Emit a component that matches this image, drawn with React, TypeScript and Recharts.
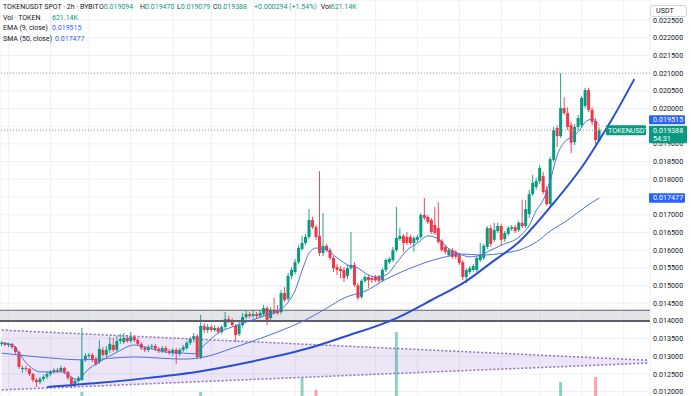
import React from 'react';
import {
  ComposedChart,
  Bar,
  Line,
  Area,
  XAxis,
  YAxis,
  CartesianGrid,
  ReferenceLine,
  ReferenceArea,
} from 'recharts';

const W = 691;
const H = 396;
const GREEN = '#089981';
const RED = '#f23645';
const BLUE = '#2962ff';
const TEXT = '#131722';
const FONT = 'Roboto, "Noto Sans", sans-serif';

// 2h candles, oldest first
const opens = [
  0.01335, 0.01338, 0.01332, 0.01335, 0.01326, 0.01312, 0.01264, 0.01267, 0.01264, 0.0125,
  0.01233, 0.01227, 0.01236, 0.01242, 0.0125, 0.01256, 0.01261, 0.01258, 0.01267, 0.01256,
  0.01239, 0.01222, 0.0123, 0.01233, 0.0129, 0.01301, 0.01304, 0.01292, 0.01284, 0.01318,
  0.01304, 0.01318, 0.01332, 0.01318, 0.01343, 0.0134, 0.01352, 0.01343, 0.01355, 0.01346,
  0.01335, 0.01323, 0.01318, 0.01326, 0.01329, 0.01321, 0.01315, 0.01323, 0.01315, 0.01309,
  0.01318, 0.01307, 0.01318, 0.01323, 0.01338, 0.01349, 0.01357, 0.01298, 0.01386, 0.01374,
  0.01383, 0.01374, 0.0138, 0.01369, 0.01383, 0.01405, 0.014, 0.01386, 0.01363, 0.01388,
  0.01411, 0.01419, 0.01414, 0.01419, 0.01414, 0.01419, 0.01436, 0.01408, 0.01431, 0.01428,
  0.01425, 0.01479, 0.01462, 0.01527, 0.01538, 0.01566, 0.01603, 0.0162, 0.01637, 0.01685,
  0.01665, 0.0164, 0.01592, 0.01612, 0.016, 0.01578, 0.01552, 0.01547, 0.01544, 0.01527,
  0.01549, 0.01558, 0.01501, 0.01468, 0.01513, 0.01524, 0.01521, 0.01524, 0.01524, 0.01515,
  0.01544, 0.01566, 0.01572, 0.016, 0.01631, 0.0164, 0.01637, 0.01637, 0.0162, 0.01629,
  0.01637, 0.01699, 0.01694, 0.01685, 0.01671, 0.01662, 0.01626, 0.01609, 0.01586, 0.016,
  0.01595, 0.01586, 0.01566, 0.01524, 0.01538, 0.01544, 0.01544, 0.01572, 0.01578, 0.01609,
  0.01662, 0.01629, 0.01654, 0.01668, 0.01631, 0.01646, 0.0166, 0.01665, 0.01657, 0.01677,
  0.01668, 0.01702, 0.01758, 0.01778, 0.01795, 0.01809, 0.0177, 0.0173, 0.01855, 0.01945,
  0.01922, 0.02001, 0.01987, 0.01953, 0.01905, 0.01948, 0.01953, 0.02007, 0.02052, 0.01996,
  0.01965, 0.019094,
];
const highs = [
  0.01343, 0.0134, 0.01338, 0.01338, 0.01329, 0.01315, 0.01273, 0.01273, 0.01267, 0.01253,
  0.01239, 0.01242, 0.01247, 0.01256, 0.01261, 0.01267, 0.01267, 0.01273, 0.0127, 0.01258,
  0.01242, 0.01236, 0.01244, 0.0138, 0.01309, 0.01309, 0.01309, 0.01298, 0.01346, 0.01326,
  0.01329, 0.01355, 0.01352, 0.01357, 0.01363, 0.01366, 0.0136, 0.01369, 0.0136, 0.01352,
  0.0134, 0.01329, 0.01332, 0.01335, 0.01335, 0.01326, 0.01329, 0.01329, 0.01321, 0.01323,
  0.01323, 0.01323, 0.01332, 0.01343, 0.01355, 0.01366, 0.01363, 0.01417, 0.01394, 0.01391,
  0.01388, 0.01388, 0.01386, 0.01388, 0.01425, 0.01414, 0.01408, 0.01391, 0.01397, 0.01422,
  0.01428, 0.01425, 0.01428, 0.01425, 0.01428, 0.01445, 0.01442, 0.01439, 0.01465, 0.01445,
  0.01487, 0.01496, 0.01535, 0.01552, 0.01575, 0.01614, 0.0164, 0.01646, 0.01716, 0.01694,
  0.01671, 0.01823, 0.01705, 0.01617, 0.01606, 0.01583, 0.01561, 0.01555, 0.01552, 0.01558,
  0.01651, 0.01566, 0.01507, 0.01518, 0.0153, 0.0153, 0.01527, 0.0153, 0.0153, 0.01549,
  0.01578, 0.01581, 0.01609, 0.01722, 0.01662, 0.01646, 0.01651, 0.01643, 0.0164, 0.01643,
  0.01705, 0.01747, 0.01699, 0.01691, 0.01722, 0.01736, 0.01631, 0.01614, 0.01606, 0.01606,
  0.016, 0.01592, 0.01572, 0.01549, 0.01555, 0.01561, 0.01583, 0.0162, 0.01617, 0.01668,
  0.01671, 0.01677, 0.01677, 0.01674, 0.01654, 0.01668, 0.01671, 0.01671, 0.01682, 0.01742,
  0.01742, 0.0177, 0.01812, 0.01804, 0.0184, 0.01821, 0.01781, 0.01863, 0.01948, 0.01953,
  0.021, 0.02032, 0.02004, 0.01962, 0.01956, 0.01982, 0.02035, 0.02058, 0.02058, 0.02004,
  0.01973, 0.01947,
];
const lows = [
  0.01329, 0.01329, 0.01326, 0.01321, 0.01307, 0.01264, 0.01253, 0.01258, 0.01244, 0.01227,
  0.01213, 0.01222, 0.0123, 0.01236, 0.01244, 0.0125, 0.01253, 0.01256, 0.0125, 0.01233,
  0.0121, 0.01213, 0.01225, 0.0123, 0.01284, 0.01295, 0.01284, 0.01273, 0.01278, 0.01298,
  0.01298, 0.01309, 0.01312, 0.01312, 0.01335, 0.01335, 0.01338, 0.01338, 0.0134, 0.01329,
  0.01318, 0.01312, 0.01312, 0.01321, 0.01315, 0.01309, 0.01309, 0.01309, 0.01304, 0.01301,
  0.01278, 0.01301, 0.01312, 0.01318, 0.01332, 0.0134, 0.01292, 0.01292, 0.01366, 0.01366,
  0.01369, 0.01369, 0.01363, 0.01363, 0.01377, 0.01394, 0.01383, 0.0134, 0.01357, 0.01383,
  0.01405, 0.01408, 0.01408, 0.01408, 0.01408, 0.01414, 0.01388, 0.01403, 0.01417, 0.01417,
  0.01419, 0.01453, 0.01456, 0.01518, 0.01532, 0.01561, 0.01598, 0.01614, 0.01631, 0.0166,
  0.01629, 0.01583, 0.01583, 0.01595, 0.01572, 0.01538, 0.0153, 0.01521, 0.0151, 0.01518,
  0.01544, 0.01496, 0.01459, 0.01462, 0.01507, 0.01493, 0.01507, 0.0151, 0.01507, 0.0151,
  0.01538, 0.01561, 0.01566, 0.01595, 0.01626, 0.01595, 0.01614, 0.01614, 0.01595, 0.01623,
  0.01631, 0.01685, 0.01674, 0.01646, 0.01643, 0.01617, 0.01595, 0.01589, 0.01581, 0.01575,
  0.01575, 0.01558, 0.01515, 0.01507, 0.01532, 0.01538, 0.01538, 0.01566, 0.01572, 0.01603,
  0.01609, 0.01623, 0.01648, 0.01614, 0.01623, 0.0164, 0.01654, 0.01648, 0.01651, 0.01662,
  0.01662, 0.01691, 0.01753, 0.0177, 0.01787, 0.01758, 0.01725, 0.01722, 0.01849, 0.01891,
  0.01917, 0.01982, 0.01939, 0.01874, 0.01897, 0.01939, 0.01945, 0.02001, 0.0199, 0.01953,
  0.01897, 0.019079,
];
const closes = [
  0.01338, 0.01332, 0.01335, 0.01326, 0.01312, 0.0127, 0.01267, 0.01264, 0.0125, 0.01233,
  0.01227, 0.01236, 0.01242, 0.0125, 0.01256, 0.01261, 0.01258, 0.01267, 0.01256, 0.01239,
  0.01222, 0.0123, 0.01239, 0.0129, 0.01301, 0.01304, 0.0129, 0.01278, 0.01321, 0.01304,
  0.01318, 0.01335, 0.01318, 0.01343, 0.01349, 0.01352, 0.01343, 0.01355, 0.01346, 0.01335,
  0.01323, 0.01318, 0.01326, 0.01329, 0.01321, 0.01315, 0.01323, 0.01315, 0.01309, 0.01318,
  0.01307, 0.01318, 0.01326, 0.01338, 0.01349, 0.01357, 0.01298, 0.01386, 0.01374, 0.01383,
  0.01374, 0.0138, 0.01369, 0.01383, 0.01405, 0.014, 0.01388, 0.0136, 0.01388, 0.01411,
  0.01419, 0.01414, 0.01419, 0.01414, 0.01422, 0.01436, 0.01403, 0.01431, 0.01422, 0.01422,
  0.01479, 0.01459, 0.01527, 0.01544, 0.01566, 0.01606, 0.0162, 0.01637, 0.01685, 0.01665,
  0.01637, 0.01592, 0.01612, 0.016, 0.01578, 0.01549, 0.01544, 0.01541, 0.01521, 0.01549,
  0.01558, 0.01501, 0.01465, 0.01513, 0.01524, 0.01515, 0.01515, 0.01515, 0.01513, 0.01544,
  0.01572, 0.01575, 0.016, 0.01634, 0.0164, 0.0162, 0.0162, 0.0162, 0.01634, 0.01637,
  0.01699, 0.01691, 0.01679, 0.01651, 0.01648, 0.01623, 0.016, 0.01595, 0.016, 0.01581,
  0.01581, 0.01564, 0.01524, 0.01544, 0.01549, 0.01555, 0.01578, 0.01586, 0.01612, 0.01662,
  0.01617, 0.01657, 0.01668, 0.01629, 0.01648, 0.01662, 0.01665, 0.01654, 0.01677, 0.01668,
  0.01716, 0.01758, 0.0179, 0.01795, 0.01832, 0.01764, 0.0173, 0.01857, 0.01939, 0.01922,
  0.02001, 0.01987, 0.01948, 0.01903, 0.01948, 0.01973, 0.0203, 0.02052, 0.01996, 0.01962,
  0.01911, 0.019388,
];

// only the volume bars that rise above the bottom edge (in K)
const volIdx = [23, 57, 86, 90, 113, 160, 170];
const volVal = [684, 684, 802, 701, 1191, 768, 811];
const lastVolume = '621.14K';

// EMA(9) / SMA(50)
const emaIdx = [0, 3, 7, 11, 17, 22, 24, 28, 33, 38, 42, 47, 52, 55, 58, 62, 66, 71, 75, 79, 82, 84, 86, 88, 90, 93, 96, 99, 102, 104, 107, 110, 113, 116, 119, 122, 125, 128, 131, 134, 137, 140, 143, 148, 151, 153, 155, 157, 159, 161, 163, 165, 167, 169, 171];
const emaVal = [
  0.01338, 0.01332, 0.01281, 0.01256, 0.01256, 0.01233, 0.01256, 0.01284, 0.01312, 0.01332,
  0.01323, 0.01312, 0.01309, 0.01307, 0.01332, 0.01366, 0.01383, 0.014, 0.01414, 0.01428,
  0.01453, 0.01487, 0.01544, 0.01592, 0.01606, 0.016, 0.01578, 0.01558, 0.01549, 0.01535,
  0.01524, 0.0153, 0.01564, 0.016, 0.0162, 0.0164, 0.01631, 0.01603, 0.01589, 0.01581,
  0.01586, 0.016, 0.01614, 0.01637, 0.01671, 0.01713, 0.01742, 0.01798, 0.01869, 0.01905,
  0.01919, 0.01934, 0.01962, 0.0197, 0.019515,
];
const smaIdx = [0, 14, 23, 38, 52, 58, 66, 71, 79, 87, 93, 98, 104, 110, 115, 121, 127, 132, 137, 144, 148, 153, 157, 162, 167, 171];
const smaVal = [
  0.01309, 0.01295, 0.0129, 0.01298, 0.01292, 0.01298, 0.01323, 0.0134, 0.01369, 0.01403,
  0.01436, 0.01465, 0.01484, 0.01518, 0.01541, 0.01564, 0.01581, 0.01589, 0.01586, 0.01592,
  0.016, 0.01623, 0.01654, 0.01685, 0.01722, 0.017477,
];

// drawings: curved support, triangle, grey zone, horizontal marks
const trendIdx = [13, 28, 42, 57, 71, 89, 98, 113, 123, 133, 140, 148, 157, 167, 171, 175, 181];
const trendVal = [
  0.01213, 0.01225, 0.01239, 0.01258, 0.01284, 0.01326, 0.01355, 0.01408, 0.01459, 0.01513,
  0.01564, 0.01623, 0.01722, 0.01849, 0.01911, 0.01976, 0.02083,
];
const triIdx = [0, 185];
const triTop = [0.01374, 0.01289];
const triBot = [0.01205, 0.01281];
const zone = [0.014, 0.0143];
const highMark = 0.021;

const priceTicks = [
  0.012, 0.0125, 0.013, 0.0135, 0.014, 0.0145, 0.015, 0.0155, 0.016, 0.0165, 0.017, 0.0175,
  0.018, 0.0185, 0.019, 0.0195, 0.02, 0.0205, 0.021, 0.0215, 0.022, 0.0225,
];
// labels fully covered by the price tags on the right
const coveredTicks = [0.0175, 0.0195];
const timeGrid = [2, 14, 25, 37, 49, 60, 72, 84, 96, 107, 119, 131, 143, 154, 166, 178];
const SLOTS = 186;
const countdown = '54:31';
const Y_DOMAIN = [0.011878, 0.023065];

const rows: any[] = Array.from({ length: SLOTS }, (_, i) => ({
  t: i,
  open: i < opens.length ? opens[i] : null,
  high: i < highs.length ? highs[i] : null,
  low: i < lows.length ? lows[i] : null,
  close: i < closes.length ? closes[i] : null,
  vol: null,
  ema: null,
  sma: null,
  trend: null,
  triTop: null,
  triBot: null,
}));
volIdx.forEach((k, j) => (rows[k].vol = volVal[j]));
emaIdx.forEach((k, j) => (rows[k].ema = emaVal[j]));
smaIdx.forEach((k, j) => (rows[k].sma = smaVal[j]));
trendIdx.forEach((k, j) => (rows[k].trend = trendVal[j]));
triIdx.forEach((k, j) => {
  rows[k].triTop = triTop[j];
  rows[k].triBot = triBot[j];
});

const last = opens.length - 1;
const lastClose = closes[last];
const lastEma = emaVal[emaVal.length - 1];
const lastSma = smaVal[smaVal.length - 1];
const fmt = (v: number) => v.toFixed(6);

function Candle(props: any) {
  const { x, y, width, height, payload } = props;
  if (!payload || payload.open == null) return <g />;
  const { open, close, high, low } = payload;
  const top = Math.min(y, y + height);
  const h = Math.abs(height);
  const span = high - low || 1;
  const py = (v: number) => top + ((high - v) / span) * h;
  const color = close >= open ? GREEN : RED;
  const cx = x + width / 2;
  const bTop = py(Math.max(open, close));
  const bH = Math.max(py(Math.min(open, close)) - bTop, 0.8);
  return (
    <g>
      <line x1={cx} x2={cx} y1={top} y2={top + h} stroke={color} strokeWidth={0.9} />
      <rect x={x} y={bTop} width={width} height={bH} fill={color} />
    </g>
  );
}

function VolBar(props: any) {
  const { x, y, width, height, payload } = props;
  if (!payload || payload.vol == null) return <g />;
  const fill = payload.close >= payload.open ? 'rgba(8,153,129,0.45)' : 'rgba(242,54,69,0.45)';
  return <rect x={x} y={Math.min(y, y + height)} width={width} height={Math.abs(height)} fill={fill} />;
}

function PriceTick(props: any) {
  const { x, y, payload } = props;
  if (coveredTicks.some((v) => Math.abs(v - payload.value) < 1e-9)) return <g />;
  return (
    <text x={x} y={y} dy="0.35em" textAnchor="start" fontSize={7.2} fill={TEXT} fontFamily={FONT}>
      {fmt(payload.value)}
    </text>
  );
}

const vbOf = (p: any) => p.viewBox ?? p;
const tagText = { fontSize: 7.2, fontFamily: FONT, fill: '#fff' };

function closeTag(p: any) {
  const vb = vbOf(p);
  const r = vb.x + vb.width;
  const y = vb.y;
  return (
    <g>
      <rect x={r - 44} y={y - 5} width={40} height={10} rx={1} fill={GREEN} />
      <text x={r - 42} y={y} dy="0.35em" {...tagText}>TOKENUSDT</text>
      <rect x={r - 1} y={y - 4.5} width={38} height={17.5} rx={1} fill={GREEN} />
      <text x={r + 3} y={y} dy="0.35em" {...tagText}>{fmt(lastClose)}</text>
      <text x={r + 3} y={y + 8.5} dy="0.35em" {...tagText}>{countdown}</text>
    </g>
  );
}

function emaTag(p: any) {
  const vb = vbOf(p);
  const r = vb.x + vb.width;
  const y = vb.y;
  return (
    <g>
      <rect x={r - 1} y={y - 10.5} width={36} height={9} rx={1} fill={BLUE} />
      <text x={r + 3} y={y - 6} dy="0.35em" {...tagText}>{fmt(lastEma)}</text>
    </g>
  );
}

function smaTag(p: any) {
  const vb = vbOf(p);
  const r = vb.x + vb.width;
  const y = vb.y;
  return (
    <g>
      <rect x={r - 1} y={y - 4.5} width={36} height={9.5} rx={1} fill={BLUE} />
      <text x={r + 3} y={y} dy="0.35em" {...tagText}>{fmt(lastSma)}</text>
    </g>
  );
}

const legendRow: React.CSSProperties = {
  position: 'absolute',
  left: 3,
  display: 'flex',
  gap: 4,
  fontFamily: FONT,
  fontSize: 7,
  lineHeight: '9px',
  color: TEXT,
  whiteSpace: 'nowrap',
};

const MARGIN = { top: 0, right: 0, bottom: 0, left: 0 };

export default function App() {
  const o = opens[last];
  const c = closes[last];
  const chg = c - o;
  const pct = (chg / o) * 100;
  return (
    <div style={{ position: 'absolute', left: 0, top: 0, width: W, height: H, background: '#fff', overflow: 'hidden' }}>
      <ComposedChart width={W} height={H} data={rows} margin={MARGIN} barGap={0}>
        <CartesianGrid stroke="#eef0f3" />
        <XAxis dataKey="t" type="category" hide ticks={timeGrid} interval={0} />
        <XAxis dataKey="t" type="category" hide xAxisId="v" />
        <YAxis
          orientation="right"
          type="number"
          width={41}
          domain={Y_DOMAIN}
          allowDataOverflow
          ticks={priceTicks}
          interval={0}
          axisLine={false}
          tickLine={false}
          tickSize={0}
          tickMargin={3}
          tick={PriceTick}
        />
        <YAxis yAxisId="v" hide type="number" domain={[650, 4000]} allowDataOverflow />

        <Area
          dataKey={(d: any) => (d.triTop == null ? null : [d.triBot, d.triTop])}
          type="linear"
          connectNulls
          stroke="none"
          fill="#9575cd"
          fillOpacity={0.18}
          isAnimationActive={false}
          activeDot={false}
        />
        <ReferenceArea y1={zone[0]} y2={zone[1]} fill="#c8cad0" fillOpacity={0.5} stroke="none" />
        <ReferenceLine y={zone[1]} stroke="#5d606b" strokeWidth={1.2} />
        <ReferenceLine y={zone[0]} stroke="#5d606b" strokeWidth={2} />

        <Bar xAxisId="v" yAxisId="v" dataKey="vol" barSize={3} shape={VolBar} isAnimationActive={false} />

        <Line dataKey="triTop" type="linear" connectNulls stroke="#8a6bd1" strokeWidth={1.5} strokeDasharray="2 2" dot={false} activeDot={false} isAnimationActive={false} />
        <Line dataKey="triBot" type="linear" connectNulls stroke="#8a6bd1" strokeWidth={1.5} strokeDasharray="2 2" dot={false} activeDot={false} isAnimationActive={false} />

        <Bar
          dataKey={(d: any) => (d.open == null ? null : [d.low, d.high])}
          barSize={3}
          shape={Candle}
          isAnimationActive={false}
        />

        <Line dataKey="sma" type="monotone" connectNulls stroke="#4f6fe6" strokeWidth={1} dot={false} activeDot={false} isAnimationActive={false} />
        <Line dataKey="ema" type="monotone" connectNulls stroke="#4f6fe6" strokeWidth={1} dot={false} activeDot={false} isAnimationActive={false} />
        <Line dataKey="trend" type="monotone" connectNulls stroke="#2a4ed8" strokeWidth={2} dot={false} activeDot={false} isAnimationActive={false} />

        <ReferenceLine y={highMark} stroke="#a3a6af" strokeDasharray="1 2" />
        <ReferenceLine y={lastClose} stroke="#8c8f99" strokeDasharray="1 2" />
      </ComposedChart>

      {/* price tags sit above the axis labels, so they get their own layer on the same scale */}
      <div style={{ position: 'absolute', left: 0, top: 0, pointerEvents: 'none' }}>
        <ComposedChart width={W} height={H} data={rows} margin={MARGIN}>
          <XAxis dataKey="t" type="category" hide />
          <YAxis
            orientation="right"
            type="number"
            width={41}
            domain={Y_DOMAIN}
            allowDataOverflow
            tick={false}
            axisLine={false}
            tickLine={false}
          />
          <ReferenceLine y={lastClose} stroke="none" label={closeTag} />
          <ReferenceLine y={lastEma} stroke="none" label={emaTag} />
          <ReferenceLine y={lastSma} stroke="none" label={smaTag} />
        </ComposedChart>
      </div>

      <div style={{ ...legendRow, top: 3 }}>
        <span style={{ width: 92 }}>TOKENUSDT SPOT · 2h · BYBIT</span>
        <span style={{ width: 37 }}>O<span style={{ color: GREEN }}>{fmt(o)}</span></span>
        <span style={{ width: 33 }}>H<span style={{ color: GREEN }}>{fmt(highs[last])}</span></span>
        <span style={{ width: 32 }}>L<span style={{ color: GREEN }}>{fmt(lows[last])}</span></span>
        <span style={{ width: 37 }}>C<span style={{ color: GREEN }}>{fmt(c)}</span></span>
        <span style={{ color: GREEN }}>
          {(chg >= 0 ? '+' : '') + fmt(chg)} ({(pct >= 0 ? '+' : '') + pct.toFixed(2)}%)
        </span>
        <span>Vol<span style={{ color: GREEN }}>{lastVolume}</span></span>
      </div>
      <div style={{ ...legendRow, top: 13.5 }}>
        <span style={{ width: 45 }}>Vol · TOKEN</span>
        <span style={{ color: GREEN }}>{lastVolume}</span>
      </div>
      <div style={{ ...legendRow, top: 24 }}>
        <span style={{ width: 45 }}>EMA (9, close)</span>
        <span style={{ color: BLUE }}>{fmt(lastEma)}</span>
      </div>
      <div style={{ ...legendRow, top: 34.5 }}>
        <span style={{ width: 48 }}>SMA (50, close)</span>
        <span style={{ color: BLUE }}>{fmt(lastSma)}</span>
      </div>

      <div
        style={{
          position: 'absolute',
          left: 650,
          top: 5,
          width: 37,
          height: 12,
          boxSizing: 'border-box',
          border: '1px solid #d1d4dc',
          borderRadius: 3,
          background: '#fff',
          fontFamily: FONT,
          fontSize: 7.2,
          lineHeight: '10px',
          color: TEXT,
          paddingLeft: 5,
        }}
      >
        USDT
      </div>
    </div>
  );
}
